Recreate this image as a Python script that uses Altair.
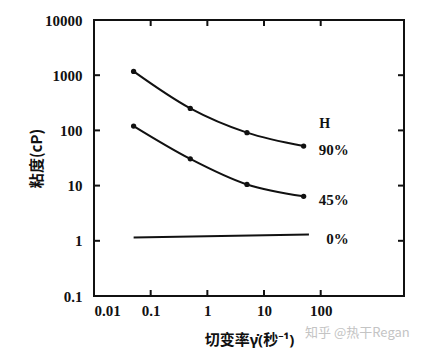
import altair as alt
import pandas as pd

# ---- data ----
shear = [0.05, 0.5, 5, 50]
visc_90 = [1170, 250, 91, 52]
visc_45 = [120, 30.5, 10.5, 6.4]
shear_0 = [0.05, 62]
visc_0 = [1.15, 1.3]
series_labels = ["90%", "45%", "0%"]
x_ticks = [0.01, 0.1, 1, 10, 100]
y_ticks = [0.1, 1, 10, 100, 1000, 10000]

W, H = 310, 276
SERIF = "Liberation Serif"
CJK = "Noto Sans CJK SC"
MIX = "Noto Sans, Noto Sans CJK SC"

rows = []
for s, vals in [("90%", visc_90), ("45%", visc_45)]:
    for i, (x, y) in enumerate(zip(shear, vals)):
        rows.append({"series": s, "x": x, "y": y, "order": i})
for i, (x, y) in enumerate(zip(shear_0, visc_0)):
    rows.append({"series": "0%", "x": x, "y": y, "order": i})
df = pd.DataFrame(rows)

pts = df[df.series != "0%"]
lab = pd.DataFrame({
    "label": series_labels,
    "x": [shear[-1]] * 3,
    "y": [visc_90[-1], visc_45[-1], visc_0[-1]],
})
head = pd.DataFrame({"x": [shear[-1]], "y": [visc_90[-1]]})
xt = pd.DataFrame({"v": x_ticks})
yt = pd.DataFrame({"v": y_ticks})

xs = alt.Scale(type="log", domain=[0.01, 2950], nice=False)
ys = alt.Scale(type="log", domain=[0.1, 10000], nice=False)

xax = alt.Axis(values=x_ticks, format="~g", grid=False, domain=False, ticks=False,
               tickSize=0, labelPadding=7, labelFont=SERIF, labelFontSize=15,
               labelFontWeight="bold", labelColor="#111",
               title="切变率γ̇(秒⁻¹)", titleFont=MIX, titleFontSize=15,
               titleFontWeight="bold", titleColor="#111", titlePadding=14)
yax = alt.Axis(values=y_ticks, format="~g", grid=False, domain=False, ticks=False,
               tickSize=0, labelPadding=12, labelFont=SERIF, labelFontSize=15,
               labelFontWeight="bold", labelColor="#111",
               title="粘度(cP)", titleFont=CJK, titleFontSize=15,
               titleFontWeight="bold", titleColor="#111", titlePadding=0)

lines = alt.Chart(df).mark_line(color="#111", strokeWidth=2, interpolate="monotone").encode(
    x=alt.X("x:Q", scale=xs, axis=xax),
    y=alt.Y("y:Q", scale=ys, axis=yax),
    detail="series:N",
    order="order:Q",
)
dots = alt.Chart(pts).mark_point(filled=True, color="#111", size=28, opacity=1).encode(
    x=alt.X("x:Q", scale=xs), y=alt.Y("y:Q", scale=ys)
)
labels = alt.Chart(lab).mark_text(align="right", baseline="middle", dx=45, dy=4,
                                  font=SERIF, fontSize=15, fontWeight="bold",
                                  color="#111").encode(
    x=alt.X("x:Q", scale=xs), y=alt.Y("y:Q", scale=ys), text="label:N"
)
htxt = alt.Chart(head).mark_text(text="H", align="center", baseline="middle", dx=21, dy=-22,
                                 font=SERIF, fontSize=14, fontWeight="bold",
                                 color="#111").encode(
    x=alt.X("x:Q", scale=xs), y=alt.Y("y:Q", scale=ys)
)

tick_style = dict(color="#111", strokeWidth=2)
bt = alt.Chart(xt).mark_rule(**tick_style).encode(
    x=alt.X("v:Q", scale=xs), y=alt.value(H), y2=alt.value(H - 6))
tt = alt.Chart(xt).mark_rule(**tick_style).encode(
    x=alt.X("v:Q", scale=xs), y=alt.value(0), y2=alt.value(6))
lt = alt.Chart(yt).mark_rule(**tick_style).encode(
    y=alt.Y("v:Q", scale=ys), x=alt.value(0), x2=alt.value(6))
rt = alt.Chart(yt).mark_rule(**tick_style).encode(
    y=alt.Y("v:Q", scale=ys), x=alt.value(W), x2=alt.value(W - 6))

wm = alt.Chart(pd.DataFrame({"t": ["知乎 @热干Regan"]})).mark_text(
    align="left", baseline="middle", font=CJK, fontSize=13, color="#c4c4c4"
).encode(x=alt.value(211), y=alt.value(313), text="t:N")

chart = alt.layer(lines, dots, labels, htxt, bt, tt, lt, rt, wm).properties(
    width=W, height=H,
    autosize=alt.AutoSizeParams(type="none"),
    padding={"left": 94, "top": 20, "right": 19, "bottom": 60},
    background="white",
).configure_view(stroke="#111", strokeWidth=2)

chart.save("out.html", embed_options={"renderer": "svg", "actions": False})
